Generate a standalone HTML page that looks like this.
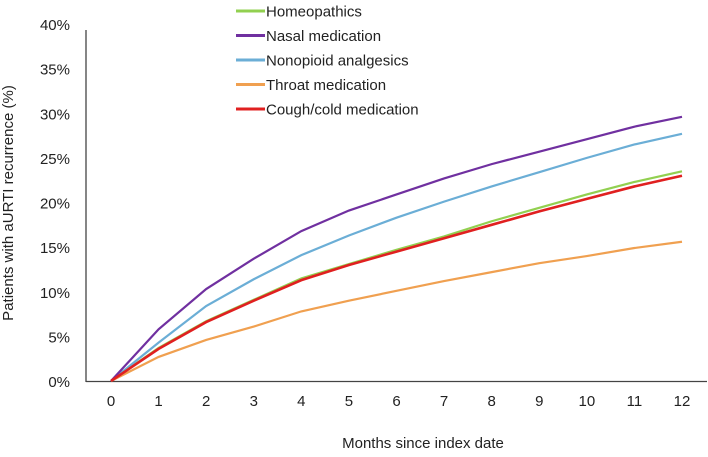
<!DOCTYPE html>
<html><head><meta charset="utf-8"><style>
body{margin:0;background:#fff;font-family:"Liberation Sans",sans-serif;}
svg text{font-family:"Liberation Sans",sans-serif;fill:#222;}
</style></head><body>
<svg width="708" height="452">
<g id="axes"></g><g id="series"></g><g id="legend"></g>
<text x="13" y="203" font-size="15" text-anchor="middle" transform="rotate(-90 13 203)">Patients with aURTI recurrence (%)</text>
<text x="423" y="448" font-size="15" text-anchor="middle">Months since index date</text>
</svg>
<script>
const months=[0,1,2,3,4,5,6,7,8,9,10,11,12];
const yTicks=[0,5,10,15,20,25,30,35,40];
const seriesNames=["Homeopathics","Nasal medication","Nonopioid analgesics","Throat medication","Cough/cold medication"];
const colors=["#92d050","#7030a0","#6baed6","#f0a050","#e02020"];
const homeo=[0,3.7,6.7,9.1,11.5,13.1,14.7,16.2,17.9,19.4,20.9,22.3,23.5];
const nasal=[0,5.8,10.3,13.7,16.8,19.1,20.9,22.7,24.3,25.7,27.1,28.5,29.6];
const nonop=[0,4.3,8.4,11.4,14.1,16.3,18.3,20.1,21.8,23.4,25.0,26.5,27.7];
const throat=[0,2.7,4.6,6.1,7.8,9.0,10.1,11.2,12.2,13.2,14.0,14.9,15.6];
const cough=[0,3.6,6.6,9.0,11.3,13.0,14.5,16.0,17.5,19.0,20.4,21.8,23.0];
const allSeries=[homeo,nasal,nonop,throat,cough];
const NS="http://www.w3.org/2000/svg";
const X=m=>111+m*(682-111)/12, Y=v=>381-v*(381-24)/40;
function mk(t,a,p){const e=document.createElementNS(NS,t);for(const k in a)e.setAttribute(k,a[k]);p.appendChild(e);return e;}
const ax=document.getElementById('axes');
let l=mk('line',{x1:86,y1:30,x2:86,y2:382,stroke:'#444','stroke-width':1.3},ax);


l=mk('line',{x1:86,y1:381.5,x2:707,y2:381.5,stroke:'#444','stroke-width':1.3},ax);


yTicks.forEach(v=>{const t=mk('text',{x:70,y:Y(v)+6,'font-size':15,'text-anchor':'end'},ax);t.textContent=v+'%';

});
months.forEach(m=>{const t=mk('text',{x:X(m),y:406,'font-size':15,'text-anchor':'middle'},ax);t.textContent=m;

});
const sg=document.getElementById('series');
[3,0,2,1,4].forEach(i=>{const p=mk('polyline',{points:months.map((m,j)=>X(m)+','+Y(allSeries[i][j])).join(' '),fill:'none',stroke:colors[i],'stroke-width':i==4?2.6:2.2},sg);

});
const lg=document.getElementById('legend');
seriesNames.forEach((n,i)=>{const y=11+i*24.5;
const ln=mk('line',{x1:236,y1:y,x2:265,y2:y,stroke:colors[i],'stroke-width':3},lg);


const t=mk('text',{x:266,y:y+5.5,'font-size':15},lg);t.textContent=n;

});
</script>
</body></html>
